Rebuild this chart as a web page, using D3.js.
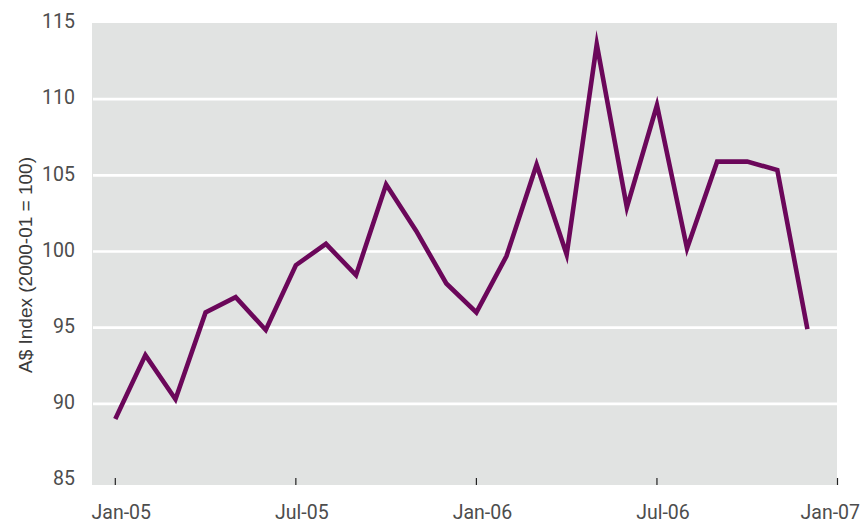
<!DOCTYPE html>
<html>
<head>
<meta charset="utf-8">
<script src="https://cdn.jsdelivr.net/npm/d3@7"></script>
<style>
  html, body { margin: 0; padding: 0; background: #fff; }
  svg { display: block; }
</style>
</head>
<body>
<svg id="chart" width="863" height="526"></svg>
<script>
// ---- Data ----
const months = ["Jan-05","Feb-05","Mar-05","Apr-05","May-05","Jun-05","Jul-05","Aug-05","Sep-05","Oct-05","Nov-05","Dec-05",
                "Jan-06","Feb-06","Mar-06","Apr-06","May-06","Jun-06","Jul-06","Aug-06","Sep-06","Oct-06","Nov-06","Dec-06"];
const values = [89.0, 93.2, 90.3, 96.0, 97.0, 94.85, 99.1, 100.5, 98.45, 104.4, 101.35, 97.9,
                96.0, 99.7, 105.7, 99.8, 113.6, 102.9, 109.6, 100.2, 105.9, 105.9, 105.35, 94.9];
const xTickIndex = [0, 6, 12, 18, 24];
const xTickLabels = ["Jan-05", "Jul-05", "Jan-06", "Jul-06", "Jan-07"];
const yTicks = [85, 90, 95, 100, 105, 110, 115];
const yGrid = [90, 95, 100, 105, 110];
const yTitle = "A$ Index (2000-01 = 100)";

// ---- Layout ----
const W = 863, H = 526;
const plot = { left: 92, right: 837, top: 23, bottom: 485 };
const svg = d3.select("#chart");

const x = d3.scaleLinear().domain([0, 24]).range([115.3, 837.5]);
const y = d3.scaleLinear().domain([85, 115]).range([480, 23]);

// background
svg.append("rect")
  .attr("x", plot.left).attr("y", plot.top)
  .attr("width", plot.right - plot.left).attr("height", plot.bottom - plot.top)
  .attr("fill", "#e1e3e2");

// gridlines
svg.append("g").selectAll("line").data(yGrid).join("line")
  .attr("x1", plot.left + 1).attr("x2", plot.right)
  .attr("y1", d => y(d)).attr("y2", d => y(d))
  .attr("stroke", "#ffffff").attr("stroke-width", 2.6);

// x ticks (inside plot at bottom)
svg.append("g").selectAll("line").data(xTickIndex).join("line")
  .attr("x1", d => x(d)).attr("x2", d => x(d))
  .attr("y1", plot.bottom - 7).attr("y2", plot.bottom)
  .attr("stroke", "#222").attr("stroke-width", 1.2);

// x tick labels
const fontTick = "Roboto, 'DejaVu Sans', sans-serif";
svg.append("g").selectAll("text").data(xTickIndex).join("text")
  .attr("x", (d, i) => i === xTickIndex.length - 1 ? W - 3 : x(d) + 6)
  .attr("y", 519)
  .attr("text-anchor", (d, i) => i === xTickIndex.length - 1 ? "end" : "middle")
  .attr("font-family", fontTick).attr("font-size", 19.5)
  .attr("fill", "#4d4d4d")
  .text((d, i) => xTickLabels[i]);

// y tick labels
svg.append("g").selectAll("text").data(yTicks).join("text")
  .attr("x", 75)
  .attr("y", d => y(d) - 1.5)
  .attr("dy", "0.35em")
  .attr("text-anchor", "end")
  .attr("font-family", fontTick).attr("font-size", 19.5)
  .attr("fill", "#4d4d4d")
  .text(d => d);

// y title
svg.append("text")
  .attr("transform", "translate(32,265) rotate(-90)")
  .attr("text-anchor", "middle")
  .attr("font-family", "'Liberation Sans', Arial, sans-serif")
  .attr("font-size", 19)
  .attr("fill", "#3a3a3a")
  .text(yTitle);

// line
const line = d3.line()
  .x((d, i) => x(i))
  .y(d => y(d));
svg.append("path")
  .datum(values)
  .attr("d", line)
  .attr("fill", "none")
  .attr("stroke", "#6b075a")
  .attr("stroke-width", 4.6)
  .attr("stroke-linejoin", "miter")
  .attr("stroke-miterlimit", 10);
</script>
</body>
</html>
